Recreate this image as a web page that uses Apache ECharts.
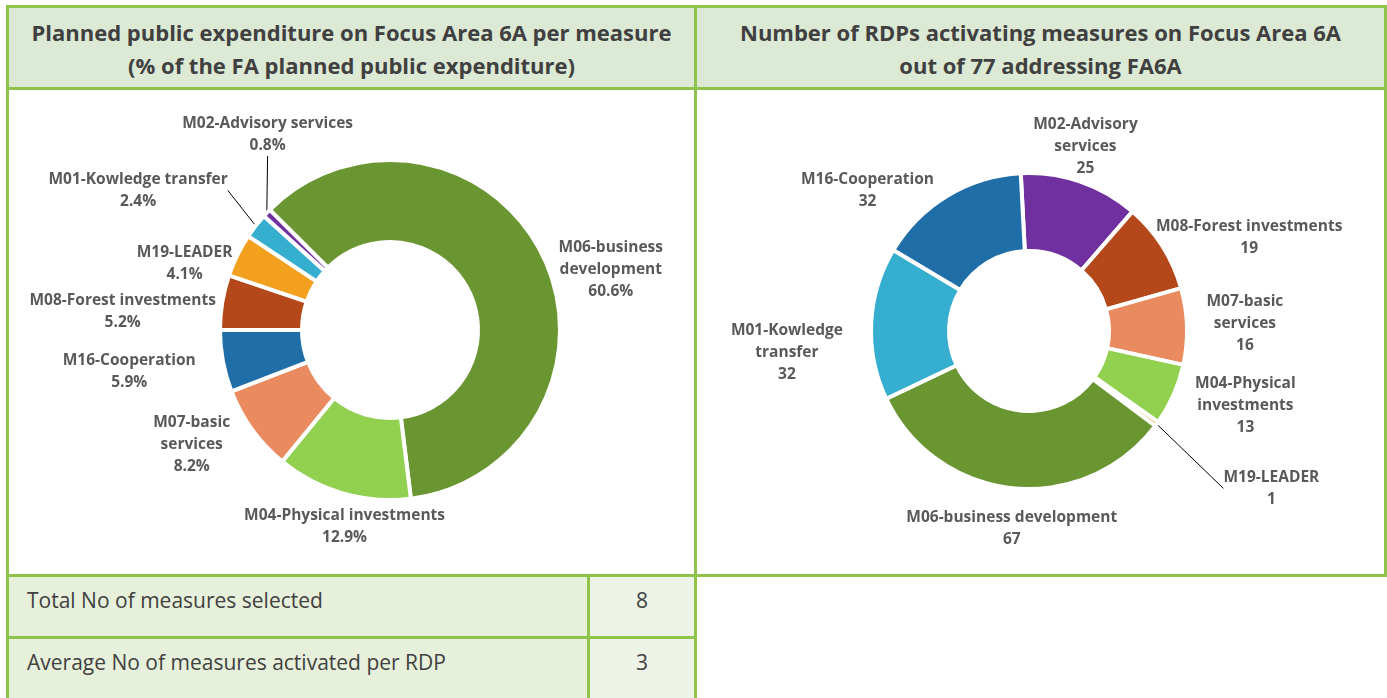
<!DOCTYPE html>
<html>
<head>
<meta charset="utf-8">
<script src="https://cdn.jsdelivr.net/npm/echarts@6/dist/echarts.min.js"></script>
<style>
  body { margin: 0; background: #fff; font-family: "Open Sans", sans-serif; }
  #wrap { position: relative; width: 1387px; height: 698px; overflow: hidden; }
  .ln { position: absolute; background: #8dc449; }
  .head { position: absolute; top: 8px; height: 79px; background: #dce9d4; color: #404040;
    font-weight: bold; font-size: 22px; line-height: 33px; text-align: center; box-sizing: border-box; padding-top: 8px; }
  .cell { position: absolute; height: 59px; box-sizing: border-box; padding-top: 9px;
    color: #404040; font-size: 21px; line-height: 28px; }
  .lab { left: 9px; width: 578px; background: #e7f0db; padding-left: 18px; }
  .val { left: 590px; width: 104px; background: #eef3e8; text-align: center; }
  #chart { position: absolute; left: 0; top: 0; width: 1387px; height: 698px; }
</style>
</head>
<body>
<div id="wrap">
  <div class="head" style="left:9px;width:685px">Planned public expenditure on Focus Area 6A per measure<br>(% of the FA planned public expenditure)</div>
  <div class="head" style="left:697px;width:687px">Number of RDPs activating measures on Focus Area 6A<br>out of 77 addressing FA6A</div>
  <div id="table"></div>

  <div class="ln" style="left:6px;top:5px;width:1381px;height:3px"></div>
  <div class="ln" style="left:6px;top:87px;width:1381px;height:3px"></div>
  <div class="ln" style="left:6px;top:574px;width:1381px;height:3px"></div>
  <div class="ln" style="left:6px;top:636px;width:691px;height:3px"></div>
  <div class="ln" style="left:6px;top:5px;width:3px;height:693px"></div>
  <div class="ln" style="left:694px;top:5px;width:3px;height:693px"></div>
  <div class="ln" style="left:1384px;top:5px;width:3px;height:572px"></div>
  <div class="ln" style="left:587px;top:574px;width:3px;height:124px"></div>

  <div id="chart"></div>
</div>
<script>
// left donut: % of planned public expenditure, clockwise order as drawn
var leftNames = ['M06-business\ndevelopment', 'M04-Physical investments', 'M07-basic\nservices', 'M16-Cooperation',
  'M08-Forest investments', 'M19-LEADER', 'M01-Kowledge transfer', 'M02-Advisory services'];
var leftValues = [60.6, 12.9, 8.2, 5.9, 5.2, 4.1, 2.4, 0.8];

// right donut: number of RDPs
var rightNames = ['M02-Advisory\nservices', 'M08-Forest investments', 'M07-basic\nservices', 'M04-Physical\ninvestments',
  'M19-LEADER', 'M06-business development', 'M01-Kowledge\ntransfer', 'M16-Cooperation'];
var rightValues = [25, 19, 16, 13, 1, 67, 32, 32];

var tableRows = ['Total No of measures selected', 'Average No of measures activated per RDP'];
var tableValues = [8, 3];

var colors = {
  M01: '#36aecf', M02: '#7030a0', M04: '#92d050', M06: '#6a9632',
  M07: '#ea8a5f', M08: '#b5481a', M16: '#1f6ea8', M19: '#f2a01e'
};

// label placement (angle clockwise from 12 o'clock, distance from centre)
var leftLabelPos = [[74.6, 229], [193, 202], [240, 229], [261, 264], [274, 268], [288, 216], [299, 288], [328, 231]];
var rightLabelPos = [[17, 193], [67.1, 239], [88.1, 216], [109.1, 229], [123, 289], [185, 198], [265, 243], [311, 214]];
var withLine = { 'M01-Kowledge transfer': true, 'M02-Advisory services': true, 'M19-LEADER': true };

// table
var html = '';
tableRows.forEach(function (t, i) {
  var top = 577 + i * 62;
  html += '<div class="cell lab" style="top:' + top + 'px">' + t + '</div>';
  html += '<div class="cell val" style="top:' + top + 'px">' + tableValues[i] + '</div>';
});
document.getElementById('table').innerHTML = html;

function donut(names, values, center, radius, startAngle, pos, fmt) {
  return {
    type: 'pie',
    center: center,
    radius: radius,
    startAngle: startAngle,
    clockwise: true,
    avoidLabelOverlap: false,
    itemStyle: { borderColor: '#fff', borderWidth: 4 },
    label: {
      position: 'outside',
      color: '#595959',
      fontFamily: 'Open Sans',
      fontWeight: 'bold',
      fontSize: 15.5,
      lineHeight: 22,
      formatter: fmt
    },
    labelLine: { show: false, length: 4, length2: 0, lineStyle: { color: '#000', width: 1 } },
    labelLayout: function (p) {
      var a = pos[p.dataIndex][0] * Math.PI / 180, d = pos[p.dataIndex][1];
      return { x: center[0] + d * Math.sin(a), y: center[1] - d * Math.cos(a), align: 'center', verticalAlign: 'middle' };
    },
    emphasis: { disabled: true },
    data: names.map(function (n, i) {
      var key = n.slice(0, 3);
      return {
        name: n, value: values[i],
        itemStyle: { color: colors[key] },
        labelLine: { show: !!withLine[n] }
      };
    })
  };
}

var chart = echarts.init(document.getElementById('chart'));
chart.setOption({
  animation: false,
  series: [
    donut(leftNames, leftValues, [390, 330], [88, 170], 135, leftLabelPos, function (p) {
      return p.name + '\n' + p.value.toFixed(1) + '%';
    }),
    donut(rightNames, rightValues, [1029, 331], [80, 158], 93, rightLabelPos, function (p) {
      return p.name + '\n' + p.value;
    })
  ]
});
</script>
</body>
</html>
